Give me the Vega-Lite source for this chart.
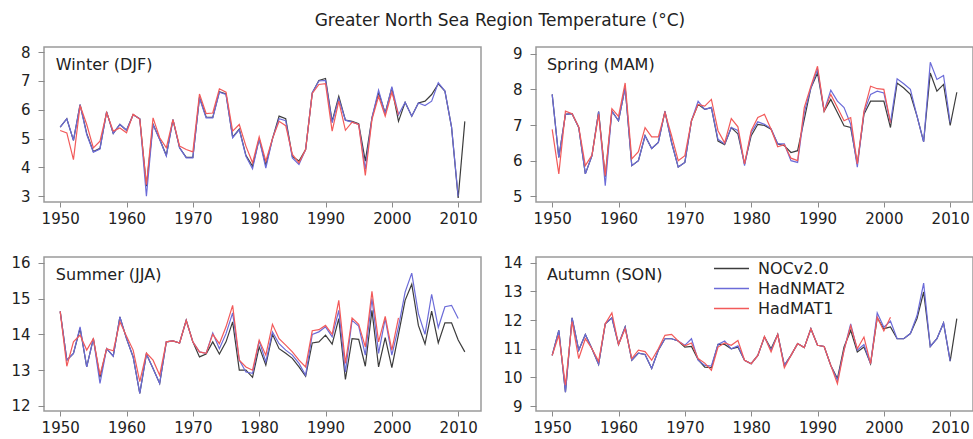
{
  "$schema": "https://vega.github.io/schema/vega-lite/v6.json",
  "padding": {"left": 10, "top": 12, "right": 0, "bottom": 0},
  "background": "white",
  "title": {"text": "Greater North Sea Region Temperature (°C)", "fontSize": 17, "font": "DejaVu Sans", "fontWeight": "normal", "color": "#222222", "anchor": "middle", "baseline": "alphabetic", "offset": 1, "dx": 8},
  "config": {
    "font": "DejaVu Sans",
    "view": {"stroke": "#9a9a9a", "strokeWidth": 1.5},
    "axis": {"domain": false, "grid": false, "tickColor": "#8a8a8a", "tickWidth": 1, "labelFontSize": 15, "labelColor": "#222222", "labelFont": "DejaVu Sans", "title": null},
    "axisX": {"tickSize": 5, "labelPadding": 4},
    "axisY": {"tickSize": 6, "labelPadding": 8},
    "text": {"font": "DejaVu Sans", "fontSize": 16, "color": "#222222", "align": "left", "baseline": "alphabetic"}
  },
  "data": {"values": [
    {"s":"W","y":1950,"n":5.40,"h":5.40,"m":5.28},{"s":"W","y":1951,"n":5.69,"h":5.69,"m":5.20},{"s":"W","y":1952,"n":4.94,"h":4.94,"m":4.27},{"s":"W","y":1953,"n":6.18,"h":6.18,"m":6.15},{"s":"W","y":1954,"n":5.18,"h":5.14,"m":5.49},{"s":"W","y":1955,"n":4.55,"h":4.53,"m":4.68},{"s":"W","y":1956,"n":4.66,"h":4.64,"m":4.91},{"s":"W","y":1957,"n":5.93,"h":5.93,"m":5.90},{"s":"W","y":1958,"n":5.18,"h":5.18,"m":5.26},{"s":"W","y":1959,"n":5.49,"h":5.49,"m":5.37},
    {"s":"W","y":1960,"n":5.29,"h":5.29,"m":5.20},{"s":"W","y":1961,"n":5.83,"h":5.83,"m":5.85},{"s":"W","y":1962,"n":5.69,"h":5.69,"m":5.67},{"s":"W","y":1963,"n":3.35,"h":3.00,"m":3.40},{"s":"W","y":1964,"n":5.50,"h":5.49,"m":5.72},{"s":"W","y":1965,"n":4.98,"h":4.97,"m":5.03},{"s":"W","y":1966,"n":4.42,"h":4.39,"m":4.68},{"s":"W","y":1967,"n":5.66,"h":5.66,"m":5.66},{"s":"W","y":1968,"n":4.68,"h":4.68,"m":4.74},{"s":"W","y":1969,"n":4.35,"h":4.33,"m":4.62},
    {"s":"W","y":1970,"n":4.35,"h":4.33,"m":4.54},{"s":"W","y":1971,"n":6.43,"h":6.41,"m":6.55},{"s":"W","y":1972,"n":5.75,"h":5.72,"m":5.87},{"s":"W","y":1973,"n":5.74,"h":5.72,"m":5.89},{"s":"W","y":1974,"n":6.63,"h":6.61,"m":6.73},{"s":"W","y":1975,"n":6.55,"h":6.53,"m":6.61},{"s":"W","y":1976,"n":5.05,"h":5.03,"m":5.26},{"s":"W","y":1977,"n":5.33,"h":5.31,"m":5.49},{"s":"W","y":1978,"n":4.42,"h":4.39,"m":4.74},{"s":"W","y":1979,"n":4.04,"h":3.95,"m":4.16},
    {"s":"W","y":1980,"n":4.99,"h":4.99,"m":5.06},{"s":"W","y":1981,"n":4.08,"h":3.98,"m":4.22},{"s":"W","y":1982,"n":4.99,"h":4.99,"m":5.00},{"s":"W","y":1983,"n":5.78,"h":5.69,"m":5.60},{"s":"W","y":1984,"n":5.69,"h":5.62,"m":5.45},{"s":"W","y":1985,"n":4.38,"h":4.33,"m":4.45},{"s":"W","y":1986,"n":4.22,"h":4.10,"m":4.16},{"s":"W","y":1987,"n":4.62,"h":4.62,"m":4.62},{"s":"W","y":1988,"n":6.59,"h":6.59,"m":6.57},{"s":"W","y":1989,"n":7.02,"h":7.00,"m":6.88},
    {"s":"W","y":1990,"n":7.09,"h":7.02,"m":6.91},{"s":"W","y":1991,"n":5.60,"h":5.55,"m":5.26},{"s":"W","y":1992,"n":6.47,"h":6.38,"m":6.30},{"s":"W","y":1993,"n":5.64,"h":5.64,"m":5.29},{"s":"W","y":1994,"n":5.60,"h":5.57,"m":5.57},{"s":"W","y":1995,"n":5.52,"h":5.49,"m":5.49},{"s":"W","y":1996,"n":4.22,"h":3.93,"m":3.72},{"s":"W","y":1997,"n":5.72,"h":5.72,"m":5.66},{"s":"W","y":1998,"n":6.59,"h":6.68,"m":6.47},{"s":"W","y":1999,"n":5.89,"h":5.86,"m":5.78},
    {"s":"W","y":2000,"n":6.76,"h":6.80,"m":6.61},{"s":"W","y":2001,"n":5.60,"h":5.83,"m":5.83},{"s":"W","y":2002,"n":6.26,"h":6.26,"m":null},{"s":"W","y":2003,"n":5.78,"h":5.78,"m":null},{"s":"W","y":2004,"n":6.24,"h":6.24,"m":null},{"s":"W","y":2005,"n":6.30,"h":6.15,"m":null},{"s":"W","y":2006,"n":6.53,"h":6.30,"m":null},{"s":"W","y":2007,"n":6.90,"h":6.94,"m":null},{"s":"W","y":2008,"n":6.65,"h":6.65,"m":null},{"s":"W","y":2009,"n":5.40,"h":5.40,"m":null},
    {"s":"W","y":2010,"n":2.94,"h":3.00,"m":null},{"s":"W","y":2011,"n":5.60,"h":null,"m":null},

    {"s":"P","y":1950,"n":7.86,"h":7.86,"m":6.88},{"s":"P","y":1951,"n":6.09,"h":6.09,"m":5.63},{"s":"P","y":1952,"n":7.30,"h":7.30,"m":7.39},{"s":"P","y":1953,"n":7.32,"h":7.32,"m":7.32},{"s":"P","y":1954,"n":6.93,"h":6.93,"m":6.95},{"s":"P","y":1955,"n":5.63,"h":5.63,"m":5.86},{"s":"P","y":1956,"n":6.14,"h":6.14,"m":6.16},{"s":"P","y":1957,"n":7.38,"h":7.38,"m":7.30},{"s":"P","y":1958,"n":5.55,"h":5.30,"m":5.58},{"s":"P","y":1959,"n":7.39,"h":7.39,"m":7.46},
    {"s":"P","y":1960,"n":7.12,"h":7.12,"m":7.24},{"s":"P","y":1961,"n":8.06,"h":8.04,"m":8.18},{"s":"P","y":1962,"n":5.86,"h":5.86,"m":6.05},{"s":"P","y":1963,"n":6.00,"h":6.00,"m":6.25},{"s":"P","y":1964,"n":6.70,"h":6.70,"m":6.93},{"s":"P","y":1965,"n":6.34,"h":6.34,"m":6.67},{"s":"P","y":1966,"n":6.51,"h":6.51,"m":6.67},{"s":"P","y":1967,"n":7.38,"h":7.38,"m":7.35},{"s":"P","y":1968,"n":6.51,"h":6.51,"m":6.70},{"s":"P","y":1969,"n":5.82,"h":5.82,"m":6.00},
    {"s":"P","y":1970,"n":5.95,"h":5.95,"m":6.14},{"s":"P","y":1971,"n":7.12,"h":7.12,"m":7.12},{"s":"P","y":1972,"n":7.58,"h":7.67,"m":7.58},{"s":"P","y":1973,"n":7.44,"h":7.44,"m":7.53},{"s":"P","y":1974,"n":7.49,"h":7.49,"m":7.72},{"s":"P","y":1975,"n":6.55,"h":6.60,"m":6.84},{"s":"P","y":1976,"n":6.45,"h":6.47,"m":6.50},{"s":"P","y":1977,"n":6.93,"h":6.93,"m":7.18},{"s":"P","y":1978,"n":6.75,"h":6.85,"m":6.95},{"s":"P","y":1979,"n":5.91,"h":5.86,"m":5.91},
    {"s":"P","y":1980,"n":6.70,"h":6.79,"m":6.84},{"s":"P","y":1981,"n":7.02,"h":7.09,"m":7.21},{"s":"P","y":1982,"n":6.99,"h":7.02,"m":7.30},{"s":"P","y":1983,"n":6.88,"h":6.90,"m":6.88},{"s":"P","y":1984,"n":6.47,"h":6.47,"m":6.39},{"s":"P","y":1985,"n":6.42,"h":6.47,"m":6.45},{"s":"P","y":1986,"n":6.23,"h":6.00,"m":6.07},{"s":"P","y":1987,"n":6.28,"h":5.95,"m":6.00},{"s":"P","y":1988,"n":7.16,"h":7.35,"m":7.49},{"s":"P","y":1989,"n":8.04,"h":8.04,"m":8.09},
    {"s":"P","y":1990,"n":8.46,"h":8.57,"m":8.65},{"s":"P","y":1991,"n":7.39,"h":7.39,"m":7.39},{"s":"P","y":1992,"n":7.72,"h":7.98,"m":7.86},{"s":"P","y":1993,"n":7.35,"h":7.67,"m":7.49},{"s":"P","y":1994,"n":6.98,"h":7.49,"m":7.12},{"s":"P","y":1995,"n":6.93,"h":7.02,"m":7.21},{"s":"P","y":1996,"n":5.91,"h":5.82,"m":5.91},{"s":"P","y":1997,"n":7.30,"h":7.35,"m":7.39},{"s":"P","y":1998,"n":7.67,"h":7.86,"m":8.09},{"s":"P","y":1999,"n":7.67,"h":7.95,"m":8.02},
    {"s":"P","y":2000,"n":7.67,"h":7.90,"m":8.00},{"s":"P","y":2001,"n":6.93,"h":7.07,"m":7.07},{"s":"P","y":2002,"n":8.18,"h":8.30,"m":null},{"s":"P","y":2003,"n":8.04,"h":8.16,"m":null},{"s":"P","y":2004,"n":7.86,"h":8.00,"m":null},{"s":"P","y":2005,"n":7.25,"h":7.25,"m":null},{"s":"P","y":2006,"n":6.53,"h":6.53,"m":null},{"s":"P","y":2007,"n":8.46,"h":8.76,"m":null},{"s":"P","y":2008,"n":7.95,"h":8.28,"m":null},{"s":"P","y":2009,"n":8.14,"h":8.39,"m":null},
    {"s":"P","y":2010,"n":6.99,"h":7.07,"m":null},{"s":"P","y":2011,"n":7.92,"h":null,"m":null},

    {"s":"S","y":1950,"n":14.64,"h":14.64,"m":14.64},{"s":"S","y":1951,"n":13.28,"h":13.28,"m":13.11},{"s":"S","y":1952,"n":13.47,"h":13.47,"m":13.79},{"s":"S","y":1953,"n":14.17,"h":14.21,"m":13.98},{"s":"S","y":1954,"n":13.09,"h":13.09,"m":13.56},{"s":"S","y":1955,"n":13.88,"h":13.88,"m":13.88},{"s":"S","y":1956,"n":12.80,"h":12.63,"m":12.86},{"s":"S","y":1957,"n":13.60,"h":13.60,"m":13.60},{"s":"S","y":1958,"n":13.39,"h":13.39,"m":13.54},{"s":"S","y":1959,"n":14.49,"h":14.49,"m":14.35},
    {"s":"S","y":1960,"n":13.88,"h":13.88,"m":13.95},{"s":"S","y":1961,"n":13.37,"h":13.37,"m":13.56},{"s":"S","y":1962,"n":12.35,"h":12.35,"m":12.68},{"s":"S","y":1963,"n":13.45,"h":13.45,"m":13.48},{"s":"S","y":1964,"n":13.05,"h":13.05,"m":13.28},{"s":"S","y":1965,"n":12.63,"h":12.63,"m":12.86},{"s":"S","y":1966,"n":13.79,"h":13.79,"m":13.79},{"s":"S","y":1967,"n":13.82,"h":13.82,"m":13.82},{"s":"S","y":1968,"n":13.76,"h":13.76,"m":13.76},{"s":"S","y":1969,"n":14.39,"h":14.39,"m":14.39},
    {"s":"S","y":1970,"n":13.79,"h":13.79,"m":13.79},{"s":"S","y":1971,"n":13.37,"h":13.51,"m":13.51},{"s":"S","y":1972,"n":13.45,"h":13.47,"m":13.47},{"s":"S","y":1973,"n":13.79,"h":14.04,"m":14.00},{"s":"S","y":1974,"n":13.45,"h":13.60,"m":13.74},{"s":"S","y":1975,"n":13.79,"h":14.02,"m":14.21},{"s":"S","y":1976,"n":14.35,"h":14.60,"m":14.81},{"s":"S","y":1977,"n":13.00,"h":13.28,"m":13.28},{"s":"S","y":1978,"n":13.00,"h":12.95,"m":13.09},{"s":"S","y":1979,"n":12.80,"h":12.91,"m":13.00},
    {"s":"S","y":1980,"n":13.65,"h":13.82,"m":13.84},{"s":"S","y":1981,"n":13.14,"h":13.23,"m":13.42},{"s":"S","y":1982,"n":14.00,"h":14.07,"m":14.28},{"s":"S","y":1983,"n":13.60,"h":13.74,"m":13.88},{"s":"S","y":1984,"n":13.47,"h":13.56,"m":13.70},{"s":"S","y":1985,"n":13.33,"h":13.42,"m":13.51},{"s":"S","y":1986,"n":13.09,"h":13.19,"m":13.28},{"s":"S","y":1987,"n":12.83,"h":12.86,"m":13.09},{"s":"S","y":1988,"n":13.76,"h":14.00,"m":14.10},{"s":"S","y":1989,"n":13.79,"h":14.07,"m":14.13},
    {"s":"S","y":1990,"n":13.98,"h":14.21,"m":14.25},{"s":"S","y":1991,"n":13.73,"h":13.93,"m":14.00},{"s":"S","y":1992,"n":14.44,"h":14.67,"m":14.95},{"s":"S","y":1993,"n":12.74,"h":12.95,"m":13.19},{"s":"S","y":1994,"n":13.88,"h":14.39,"m":14.46},{"s":"S","y":1995,"n":13.86,"h":14.23,"m":14.28},{"s":"S","y":1996,"n":13.11,"h":13.42,"m":13.65},{"s":"S","y":1997,"n":14.67,"h":15.00,"m":15.20},{"s":"S","y":1998,"n":13.09,"h":13.47,"m":13.79},{"s":"S","y":1999,"n":13.91,"h":14.44,"m":14.50},
    {"s":"S","y":2000,"n":13.07,"h":13.42,"m":13.56},{"s":"S","y":2001,"n":14.00,"h":14.21,"m":14.46},{"s":"S","y":2002,"n":14.95,"h":15.18,"m":null},{"s":"S","y":2003,"n":15.40,"h":15.71,"m":null},{"s":"S","y":2004,"n":14.25,"h":14.58,"m":null},{"s":"S","y":2005,"n":13.73,"h":14.00,"m":null},{"s":"S","y":2006,"n":14.65,"h":15.12,"m":null},{"s":"S","y":2007,"n":13.76,"h":14.19,"m":null},{"s":"S","y":2008,"n":14.32,"h":14.77,"m":null},{"s":"S","y":2009,"n":14.32,"h":14.81,"m":null},
    {"s":"S","y":2010,"n":13.84,"h":14.44,"m":null},{"s":"S","y":2011,"n":13.51,"h":null,"m":null},

    {"s":"A","y":1950,"n":10.77,"h":10.77,"m":10.77},{"s":"A","y":1951,"n":11.64,"h":11.64,"m":11.47},{"s":"A","y":1952,"n":9.49,"h":9.49,"m":9.73},{"s":"A","y":1953,"n":12.08,"h":12.08,"m":11.95},{"s":"A","y":1954,"n":10.95,"h":10.95,"m":10.66},{"s":"A","y":1955,"n":11.50,"h":11.50,"m":11.35},{"s":"A","y":1956,"n":11.00,"h":11.00,"m":11.00},{"s":"A","y":1957,"n":10.46,"h":10.46,"m":10.56},{"s":"A","y":1958,"n":11.87,"h":11.87,"m":11.87},{"s":"A","y":1959,"n":12.08,"h":12.08,"m":12.25},
    {"s":"A","y":1960,"n":11.15,"h":11.15,"m":11.15},{"s":"A","y":1961,"n":11.76,"h":11.76,"m":11.70},{"s":"A","y":1962,"n":10.60,"h":10.60,"m":10.66},{"s":"A","y":1963,"n":10.85,"h":10.85,"m":10.95},{"s":"A","y":1964,"n":10.80,"h":10.80,"m":10.90},{"s":"A","y":1965,"n":10.31,"h":10.31,"m":10.60},{"s":"A","y":1966,"n":10.95,"h":10.95,"m":11.00},{"s":"A","y":1967,"n":11.35,"h":11.35,"m":11.47},{"s":"A","y":1968,"n":11.35,"h":11.35,"m":11.50},{"s":"A","y":1969,"n":11.27,"h":11.27,"m":11.27},
    {"s":"A","y":1970,"n":11.06,"h":11.12,"m":11.10},{"s":"A","y":1971,"n":11.08,"h":11.35,"m":11.20},{"s":"A","y":1972,"n":10.62,"h":10.60,"m":10.66},{"s":"A","y":1973,"n":10.36,"h":10.42,"m":10.50},{"s":"A","y":1974,"n":10.34,"h":10.40,"m":10.25},{"s":"A","y":1975,"n":11.15,"h":11.15,"m":11.06},{"s":"A","y":1976,"n":11.15,"h":11.27,"m":11.20},{"s":"A","y":1977,"n":11.00,"h":11.00,"m":11.12},{"s":"A","y":1978,"n":11.06,"h":11.10,"m":11.29},{"s":"A","y":1979,"n":10.60,"h":10.60,"m":10.60},
    {"s":"A","y":1980,"n":10.48,"h":10.48,"m":10.48},{"s":"A","y":1981,"n":10.77,"h":10.77,"m":10.77},{"s":"A","y":1982,"n":11.41,"h":11.41,"m":11.43},{"s":"A","y":1983,"n":11.00,"h":10.95,"m":10.89},{"s":"A","y":1984,"n":11.50,"h":11.50,"m":11.50},{"s":"A","y":1985,"n":10.42,"h":10.42,"m":10.34},{"s":"A","y":1986,"n":10.77,"h":10.77,"m":10.77},{"s":"A","y":1987,"n":11.18,"h":11.18,"m":11.18},{"s":"A","y":1988,"n":11.04,"h":11.04,"m":11.04},{"s":"A","y":1989,"n":11.70,"h":11.70,"m":11.70},
    {"s":"A","y":1990,"n":11.12,"h":11.12,"m":11.12},{"s":"A","y":1991,"n":11.08,"h":11.08,"m":11.08},{"s":"A","y":1992,"n":10.42,"h":10.42,"m":10.42},{"s":"A","y":1993,"n":9.96,"h":9.90,"m":9.78},{"s":"A","y":1994,"n":11.06,"h":10.95,"m":10.95},{"s":"A","y":1995,"n":11.64,"h":11.87,"m":11.80},{"s":"A","y":1996,"n":10.89,"h":10.95,"m":11.00},{"s":"A","y":1997,"n":11.06,"h":11.15,"m":11.41},{"s":"A","y":1998,"n":10.48,"h":10.48,"m":10.48},{"s":"A","y":1999,"n":12.08,"h":12.25,"m":12.10},
    {"s":"A","y":2000,"n":11.70,"h":11.75,"m":11.62},{"s":"A","y":2001,"n":11.76,"h":11.97,"m":12.10},{"s":"A","y":2002,"n":11.35,"h":11.35,"m":null},{"s":"A","y":2003,"n":11.35,"h":11.35,"m":null},{"s":"A","y":2004,"n":11.53,"h":11.53,"m":null},{"s":"A","y":2005,"n":12.05,"h":12.16,"m":null},{"s":"A","y":2006,"n":12.98,"h":13.29,"m":null},{"s":"A","y":2007,"n":11.08,"h":11.08,"m":null},{"s":"A","y":2008,"n":11.35,"h":11.35,"m":null},{"s":"A","y":2009,"n":11.90,"h":11.90,"m":null},
    {"s":"A","y":2010,"n":10.57,"h":10.57,"m":null},{"s":"A","y":2011,"n":12.05,"h":null,"m":null}
  ]},
  "columns": 2,
  "spacing": {"row": 55, "column": 55},
  "bounds": "flush",
  "resolve": {"scale": {"x": "independent", "y": "independent", "color": "independent"}, "legend": {"color": "independent"}},
  "concat": [
    {
      "width": 437, "height": 155,
      "layer": [
        {
          "transform": [{"filter": "datum.s == 'W'"}, {"fold": ["n", "h", "m"], "as": ["series", "value"]}, {"filter": "datum.value != null"}],
          "mark": {"type": "line", "strokeWidth": 1.2},
          "encoding": {
            "x": {"field": "y", "type": "quantitative", "scale": {"domain": [1947.56, 2013.44], "nice": false, "zero": false}, "axis": {"values": [1950, 1960, 1970, 1980, 1990, 2000, 2010], "format": "d"}},
            "y": {"field": "value", "type": "quantitative", "scale": {"domain": [2.80, 8.18], "nice": false, "zero": false}, "axis": {"values": [3, 4, 5, 6, 7, 8], "format": "d"}},
            "color": {"field": "series", "type": "nominal", "scale": {"domain": ["n", "h", "m"], "range": ["#3c3c3c", "#6b6bd8", "#f25a5a"]}, "legend": null}
          }
        },
        {
          "data": {"values": [{"label": "Winter (DJF)"}]},
          "mark": {"type": "text"},
          "encoding": {
            "x": {"datum": 1949.35, "type": "quantitative", "axis": {"values": [1950, 1960, 1970, 1980, 1990, 2000, 2010], "format": "d"}},
            "y": {"datum": 7.385, "type": "quantitative", "axis": {"values": [3, 4, 5, 6, 7, 8], "format": "d"}},
            "text": {"field": "label"}
          }
        }
      ]
    },
    {
      "width": 437, "height": 155,
      "layer": [
        {
          "transform": [{"filter": "datum.s == 'P'"}, {"fold": ["n", "h", "m"], "as": ["series", "value"]}, {"filter": "datum.value != null"}],
          "mark": {"type": "line", "strokeWidth": 1.2},
          "encoding": {
            "x": {"field": "y", "type": "quantitative", "scale": {"domain": [1947.56, 2013.44], "nice": false, "zero": false}, "axis": {"values": [1950, 1960, 1970, 1980, 1990, 2000, 2010], "format": "d"}},
            "y": {"field": "value", "type": "quantitative", "scale": {"domain": [4.84, 9.19], "nice": false, "zero": false}, "axis": {"values": [5, 6, 7, 8, 9], "format": "d"}},
            "color": {"field": "series", "type": "nominal", "scale": {"domain": ["n", "h", "m"], "range": ["#3c3c3c", "#6b6bd8", "#f25a5a"]}, "legend": null}
          }
        },
        {
          "data": {"values": [{"label": "Spring (MAM)"}]},
          "mark": {"type": "text"},
          "encoding": {
            "x": {"datum": 1949.2, "type": "quantitative", "axis": {"values": [1950, 1960, 1970, 1980, 1990, 2000, 2010], "format": "d"}},
            "y": {"datum": 8.54, "type": "quantitative", "axis": {"values": [5, 6, 7, 8, 9], "format": "d"}},
            "text": {"field": "label"}
          }
        }
      ]
    },
    {
      "width": 437, "height": 154,
      "layer": [
        {
          "transform": [{"filter": "datum.s == 'S'"}, {"fold": ["n", "h", "m"], "as": ["series", "value"]}, {"filter": "datum.value != null"}],
          "mark": {"type": "line", "strokeWidth": 1.2},
          "encoding": {
            "x": {"field": "y", "type": "quantitative", "scale": {"domain": [1947.56, 2013.44], "nice": false, "zero": false}, "axis": {"values": [1950, 1960, 1970, 1980, 1990, 2000, 2010], "format": "d"}},
            "y": {"field": "value", "type": "quantitative", "scale": {"domain": [11.86, 16.16], "nice": false, "zero": false}, "axis": {"values": [12, 13, 14, 15, 16], "format": "d"}},
            "color": {"field": "series", "type": "nominal", "scale": {"domain": ["n", "h", "m"], "range": ["#3c3c3c", "#6b6bd8", "#f25a5a"]}, "legend": null}
          }
        },
        {
          "data": {"values": [{"label": "Summer (JJA)"}]},
          "mark": {"type": "text"},
          "encoding": {
            "x": {"datum": 1949.35, "type": "quantitative", "axis": {"values": [1950, 1960, 1970, 1980, 1990, 2000, 2010], "format": "d"}},
            "y": {"datum": 15.53, "type": "quantitative", "axis": {"values": [12, 13, 14, 15, 16], "format": "d"}},
            "text": {"field": "label"}
          }
        }
      ]
    },
    {
      "width": 437, "height": 154,
      "layer": [
        {
          "transform": [{"filter": "datum.s == 'A'"}, {"fold": ["n", "h", "m"], "as": ["series", "value"]}, {"filter": "datum.value != null"}],
          "mark": {"type": "line", "strokeWidth": 1.2},
          "encoding": {
            "x": {"field": "y", "type": "quantitative", "scale": {"domain": [1947.56, 2013.44], "nice": false, "zero": false}, "axis": {"values": [1950, 1960, 1970, 1980, 1990, 2000, 2010], "format": "d"}},
            "y": {"field": "value", "type": "quantitative", "scale": {"domain": [8.83, 14.2], "nice": false, "zero": false}, "axis": {"values": [9, 10, 11, 12, 13, 14], "format": "d"}},
            "color": {"field": "series", "type": "nominal", "scale": {"domain": ["n", "h", "m"], "range": ["#3c3c3c", "#6b6bd8", "#f25a5a"]},
              "legend": {"orient": "none", "legendX": 186, "legendY": 2, "title": null, "symbolType": "M-2,0H2", "symbolSize": 306, "symbolStrokeWidth": 1.3, "symbolFillColor": "transparent", "labelFontSize": 16, "labelColor": "#222222", "labelOffset": 17, "rowPadding": 2, "labelExpr": "datum.label == 'n' ? 'NOCv2.0' : datum.label == 'h' ? 'HadNMAT2' : 'HadMAT1'"}}
          }
        },
        {
          "data": {"values": [{"label": "Autumn (SON)"}]},
          "mark": {"type": "text"},
          "encoding": {
            "x": {"datum": 1949.2, "type": "quantitative", "axis": {"values": [1950, 1960, 1970, 1980, 1990, 2000, 2010], "format": "d"}},
            "y": {"datum": 13.39, "type": "quantitative", "axis": {"values": [9, 10, 11, 12, 13, 14], "format": "d"}},
            "text": {"field": "label"}
          }
        }
      ]
    }
  ]
}
